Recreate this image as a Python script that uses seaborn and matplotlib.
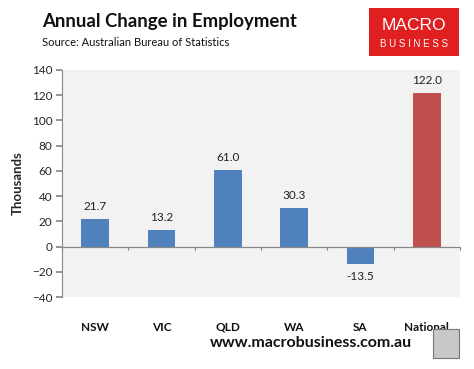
import matplotlib
matplotlib.use("Agg")
import matplotlib.pyplot as plt
import seaborn as sns
import pandas as pd
from matplotlib.patches import Rectangle

regions = ["NSW", "VIC", "QLD", "WA", "SA", "National"]
change = [21.7, 13.2, 61.0, 30.3, -13.5, 122.0]
colors = ["#4f81bd", "#4f81bd", "#4f81bd", "#4f81bd", "#4f81bd", "#c0504d"]
yticks = [-40, -20, 0, 20, 40, 60, 80, 100, 120, 140]

sns.set_theme(style="white")
plt.rcParams['font.family'] = ['Lato', 'DejaVu Sans']

df = pd.DataFrame({"region": regions, "change": change})

fig = plt.figure(figsize=(4.74, 3.69), dpi=100)
ax = fig.add_axes([62/474, 1-297/369, (460-62)/474, (297-70)/369])
ax.set_facecolor("#f2f2f2")

sns.barplot(data=df, x="region", y="change", hue="region", palette=colors,
            legend=False, width=0.42, ax=ax, saturation=1, linewidth=0)

for i, c in enumerate(ax.containers):
    ax.bar_label(c, fmt="%.1f", padding=5, fontsize=8.5, color="#222222")

ax.set_ylim(-40, 140)
ax.set_yticks(yticks)
ax.set_xlim(-0.5, 5.5)
ax.set_xticks(range(len(regions)))
ax.set_xticklabels(regions)
for s in ["top", "right", "bottom"]:
    ax.spines[s].set_visible(False)
ax.spines["left"].set_color("#888888")
ax.spines["left"].set_linewidth(0.8)
ax.axhline(0, color="#888888", lw=0.9, zorder=1)
for k in range(7):
    ax.plot([k-0.5, k-0.5], [0, -2.6], color="#888888", lw=0.8, clip_on=False)

ax.tick_params(axis="y", left=True, length=4, color="#888888", labelsize=8.5, pad=3)
ax.tick_params(axis="x", bottom=False, pad=12, labelsize=8.5)
ax.set_xlabel("")
ax.set_ylabel("Thousands", fontsize=9.5, fontweight="bold", labelpad=6)

fig.text(42/474, 1-21/369, "Annual Change in Employment", fontsize=13.4, fontweight="bold",
         va="center", ha="left", color="#111111")
fig.text(42/474, 1-43/369, "Source: Australian Bureau of Statistics", fontsize=8,
         va="center", ha="left", color="#111111")

# logo
fig.patches.append(Rectangle((369/474, 1-56/369), 90/474, 48/369, transform=fig.transFigure,
                             facecolor="#e02020", edgecolor="none"))
fig.text(414/474, 1-26/369, "MACRO", fontsize=12.5, color="white", ha="center", va="center",
         family=["Liberation Sans", "DejaVu Sans"])
fig.text(414/474, 1-44/369, "B U S I N E S S", fontsize=7, color="white", ha="center", va="center",
         family=["Liberation Sans", "DejaVu Sans"])

fig.text(311/474, 1-343/369, "www.macrobusiness.com.au", fontsize=11.5, fontweight="bold",
         ha="center", va="center", color="#111111")
fig.patches.append(Rectangle((433/474, 1-358/369), 26/474, 29/369, transform=fig.transFigure,
                             facecolor="#c8c8c8", edgecolor="#777777", lw=0.8))

for lab in ax.get_xticklabels():
    lab.set_fontweight("bold")
    lab.set_color("#111111")

fig.savefig("out.png", dpi=100)
